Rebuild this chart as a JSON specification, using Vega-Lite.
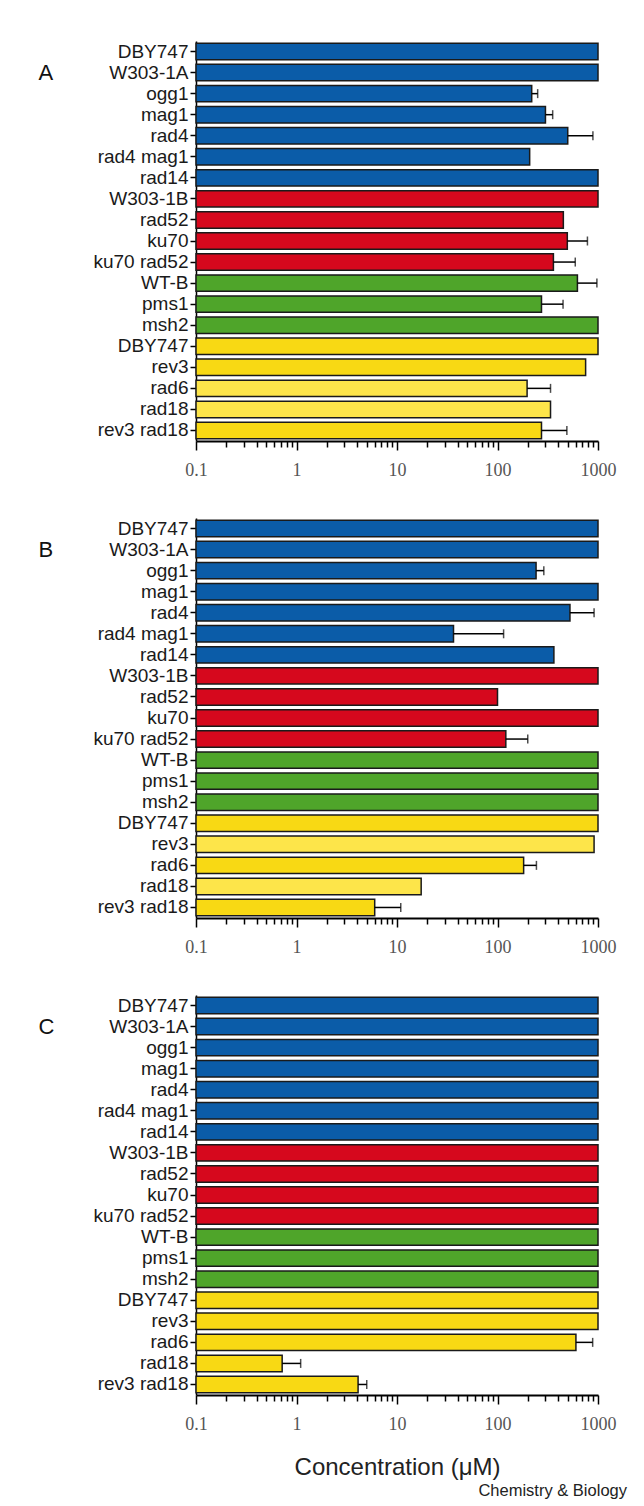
{
  "$schema": "https://vega.github.io/schema/vega-lite/v6.json",
  "padding": {"left": 38, "top": 41, "right": 10, "bottom": 5},
  "background": "white",
  "title": {"text": "Chemistry & Biology", "orient": "bottom", "anchor": "end", "frame": "bounds", "fontSize": 16.5, "fontWeight": "normal", "font": "Liberation Sans", "color": "#222", "dx": 11, "offset": 4},
  "spacing": 39,
  "datasets": {
    "bars": [
      {"p": "A", "id": "01|DBY747", "v": 1000, "c": "blue"},
      {"p": "A", "id": "02|W303-1A", "v": 1000, "c": "blue"},
      {"p": "A", "id": "03|ogg1", "v": 219, "e": 251, "c": "blue"},
      {"p": "A", "id": "04|mag1", "v": 300, "e": 354, "c": "blue"},
      {"p": "A", "id": "05|rad4", "v": 500, "e": 890, "c": "blue"},
      {"p": "A", "id": "06|rad4 mag1", "v": 209, "c": "blue"},
      {"p": "A", "id": "07|rad14", "v": 1000, "c": "blue"},
      {"p": "A", "id": "08|W303-1B", "v": 1000, "c": "red"},
      {"p": "A", "id": "09|rad52", "v": 452, "c": "red"},
      {"p": "A", "id": "10|ku70", "v": 495, "e": 785, "c": "red"},
      {"p": "A", "id": "11|ku70 rad52", "v": 360, "e": 594, "c": "red"},
      {"p": "A", "id": "12|WT-B", "v": 624, "e": 975, "c": "green"},
      {"p": "A", "id": "13|pms1", "v": 274, "e": 449, "c": "green"},
      {"p": "A", "id": "14|msh2", "v": 1000, "c": "green"},
      {"p": "A", "id": "15|DBY747", "v": 1000, "c": "yellow"},
      {"p": "A", "id": "16|rev3", "v": 753, "c": "yellow"},
      {"p": "A", "id": "17|rad6", "v": 197, "e": 337, "c": "light"},
      {"p": "A", "id": "18|rad18", "v": 337, "c": "light"},
      {"p": "A", "id": "19|rev3 rad18", "v": 274, "e": 490, "c": "yellow"},
      {"p": "B", "id": "01|DBY747", "v": 1000, "c": "blue"},
      {"p": "B", "id": "02|W303-1A", "v": 1000, "c": "blue"},
      {"p": "B", "id": "03|ogg1", "v": 242, "e": 289, "c": "blue"},
      {"p": "B", "id": "04|mag1", "v": 1000, "c": "blue"},
      {"p": "B", "id": "05|rad4", "v": 526, "e": 914, "c": "blue"},
      {"p": "B", "id": "06|rad4 mag1", "v": 36.5, "e": 115, "c": "blue"},
      {"p": "B", "id": "07|rad14", "v": 364, "c": "blue"},
      {"p": "B", "id": "08|W303-1B", "v": 1000, "c": "red"},
      {"p": "B", "id": "09|rad52", "v": 100, "c": "red"},
      {"p": "B", "id": "10|ku70", "v": 1000, "c": "red"},
      {"p": "B", "id": "11|ku70 rad52", "v": 121, "e": 200, "c": "red"},
      {"p": "B", "id": "12|WT-B", "v": 1000, "c": "green"},
      {"p": "B", "id": "13|pms1", "v": 1000, "c": "green"},
      {"p": "B", "id": "14|msh2", "v": 1000, "c": "green"},
      {"p": "B", "id": "15|DBY747", "v": 1000, "c": "yellow"},
      {"p": "B", "id": "16|rev3", "v": 914, "c": "light"},
      {"p": "B", "id": "17|rad6", "v": 182, "e": 244, "c": "yellow"},
      {"p": "B", "id": "18|rad18", "v": 17.4, "c": "light"},
      {"p": "B", "id": "19|rev3 rad18", "v": 6.0, "e": 10.9, "c": "yellow"},
      {"p": "C", "id": "01|DBY747", "v": 1000, "c": "blue"},
      {"p": "C", "id": "02|W303-1A", "v": 1000, "c": "blue"},
      {"p": "C", "id": "03|ogg1", "v": 1000, "c": "blue"},
      {"p": "C", "id": "04|mag1", "v": 1000, "c": "blue"},
      {"p": "C", "id": "05|rad4", "v": 1000, "c": "blue"},
      {"p": "C", "id": "06|rad4 mag1", "v": 1000, "c": "blue"},
      {"p": "C", "id": "07|rad14", "v": 1000, "c": "blue"},
      {"p": "C", "id": "08|W303-1B", "v": 1000, "c": "red"},
      {"p": "C", "id": "09|rad52", "v": 1000, "c": "red"},
      {"p": "C", "id": "10|ku70", "v": 1000, "c": "red"},
      {"p": "C", "id": "11|ku70 rad52", "v": 1000, "c": "red"},
      {"p": "C", "id": "12|WT-B", "v": 1000, "c": "green"},
      {"p": "C", "id": "13|pms1", "v": 1000, "c": "green"},
      {"p": "C", "id": "14|msh2", "v": 1000, "c": "green"},
      {"p": "C", "id": "15|DBY747", "v": 1000, "c": "yellow"},
      {"p": "C", "id": "16|rev3", "v": 1000, "c": "yellow"},
      {"p": "C", "id": "17|rad6", "v": 603, "e": 885, "c": "yellow"},
      {"p": "C", "id": "18|rad18", "v": 0.72, "e": 1.10, "c": "yellow"},
      {"p": "C", "id": "19|rev3 rad18", "v": 4.1, "e": 5.0, "c": "yellow"}
    ]
  },
  "data": {"name": "bars"},
  "vconcat": [
    {
      "width": 402, "height": 400,
      "transform": [{"filter": "datum.p == 'A'"}],
      "encoding": {"y": {"field": "id", "type": "nominal", "sort": "ascending", "scale": {"paddingInner": 0.22, "paddingOuter": 0.11}, "axis": {"title": "A", "titleX": -158, "titleY": 31}}},
      "layer": [
        {"mark": {"type": "bar", "stroke": "#1a1a1a", "strokeWidth": 1.5}, "encoding": {"x": {"field": "v", "type": "quantitative", "scale": {"type": "log", "domain": [0.1, 1000], "nice": false}, "axis": {"title": null}}, "x2": {"datum": 0.1}, "color": {"field": "c", "type": "nominal", "scale": {"domain": ["blue", "red", "green", "yellow", "light"], "range": ["#0b5ca8", "#d6081d", "#4fa52a", "#f8d914", "#fde54a"]}, "legend": null}}},
        {"transform": [{"filter": "isValid(datum.e)"}], "mark": {"type": "rule", "color": "black", "strokeWidth": 1.5}, "encoding": {"x": {"field": "v", "type": "quantitative", "title": null}, "x2": {"field": "e"}}},
        {"transform": [{"filter": "isValid(datum.e)"}], "mark": {"type": "tick", "color": "black", "thickness": 1.5, "size": 9}, "encoding": {"x": {"field": "e", "type": "quantitative", "title": null}}}
      ]
    },
    {
      "width": 402, "height": 400,
      "transform": [{"filter": "datum.p == 'B'"}],
      "encoding": {"y": {"field": "id", "type": "nominal", "sort": "ascending", "scale": {"paddingInner": 0.22, "paddingOuter": 0.11}, "axis": {"title": "B", "titleX": -158, "titleY": 31}}},
      "layer": [
        {"mark": {"type": "bar", "stroke": "#1a1a1a", "strokeWidth": 1.5}, "encoding": {"x": {"field": "v", "type": "quantitative", "scale": {"type": "log", "domain": [0.1, 1000], "nice": false}, "axis": {"title": null}}, "x2": {"datum": 0.1}, "color": {"field": "c", "type": "nominal", "scale": {"domain": ["blue", "red", "green", "yellow", "light"], "range": ["#0b5ca8", "#d6081d", "#4fa52a", "#f8d914", "#fde54a"]}, "legend": null}}},
        {"transform": [{"filter": "isValid(datum.e)"}], "mark": {"type": "rule", "color": "black", "strokeWidth": 1.5}, "encoding": {"x": {"field": "v", "type": "quantitative", "title": null}, "x2": {"field": "e"}}},
        {"transform": [{"filter": "isValid(datum.e)"}], "mark": {"type": "tick", "color": "black", "thickness": 1.5, "size": 9}, "encoding": {"x": {"field": "e", "type": "quantitative", "title": null}}}
      ]
    },
    {
      "width": 402, "height": 400,
      "transform": [{"filter": "datum.p == 'C'"}],
      "encoding": {"y": {"field": "id", "type": "nominal", "sort": "ascending", "scale": {"paddingInner": 0.22, "paddingOuter": 0.11}, "axis": {"title": "C", "titleX": -158, "titleY": 31}}},
      "layer": [
        {"mark": {"type": "bar", "stroke": "#1a1a1a", "strokeWidth": 1.5}, "encoding": {"x": {"field": "v", "type": "quantitative", "scale": {"type": "log", "domain": [0.1, 1000], "nice": false}, "axis": {"title": "Concentration (μM)", "titleFont": "Liberation Sans", "titleFontSize": 24, "titleFontWeight": "normal", "titleColor": "#222", "titlePadding": 22}}, "x2": {"datum": 0.1}, "color": {"field": "c", "type": "nominal", "scale": {"domain": ["blue", "red", "green", "yellow", "light"], "range": ["#0b5ca8", "#d6081d", "#4fa52a", "#f8d914", "#fde54a"]}, "legend": null}}},
        {"transform": [{"filter": "isValid(datum.e)"}], "mark": {"type": "rule", "color": "black", "strokeWidth": 1.5}, "encoding": {"x": {"field": "v", "type": "quantitative", "title": "Concentration (μM)"}, "x2": {"field": "e"}}},
        {"transform": [{"filter": "isValid(datum.e)"}], "mark": {"type": "tick", "color": "black", "thickness": 1.5, "size": 9}, "encoding": {"x": {"field": "e", "type": "quantitative", "title": "Concentration (μM)"}}}
      ]
    }
  ],
  "config": {
    "view": {"stroke": null},
    "axisY": {"labelExpr": "split(datum.label, '|')[1]", "labelFont": "Liberation Sans", "labelFontSize": 19, "labelColor": "#1a1a1a", "tickSize": 6, "tickColor": "black", "tickWidth": 1.5, "domainColor": "black", "domainWidth": 1.5, "labelPadding": 2, "grid": false, "titleAngle": 0, "titleAlign": "left", "titleBaseline": "middle", "titleFont": "Liberation Sans", "titleFontSize": 22, "titleFontWeight": "normal", "titleColor": "#111"},
    "axisX": {"values": [0.1, 0.2, 0.3, 0.4, 0.5, 0.6, 0.7, 0.8, 0.9, 1, 2, 3, 4, 5, 6, 7, 8, 9, 10, 20, 30, 40, 50, 60, 70, 80, 90, 100, 200, 300, 400, 500, 600, 700, 800, 900, 1000], "labelExpr": "indexof([0.1, 1, 10, 100, 1000], datum.value) >= 0 ? format(datum.value, '~g') : ''", "tickSize": {"condition": {"test": "indexof([0.1, 1, 10, 100, 1000], datum.value) >= 0", "value": 9}, "value": 6}, "labelFont": "Liberation Serif", "labelFontSize": 18, "labelColor": "#555", "labelPadding": 11, "labelOverlap": false, "labelFlush": false, "domainColor": "black", "domainWidth": 2, "tickColor": "black", "tickWidth": 1.5, "grid": false}
  }
}
